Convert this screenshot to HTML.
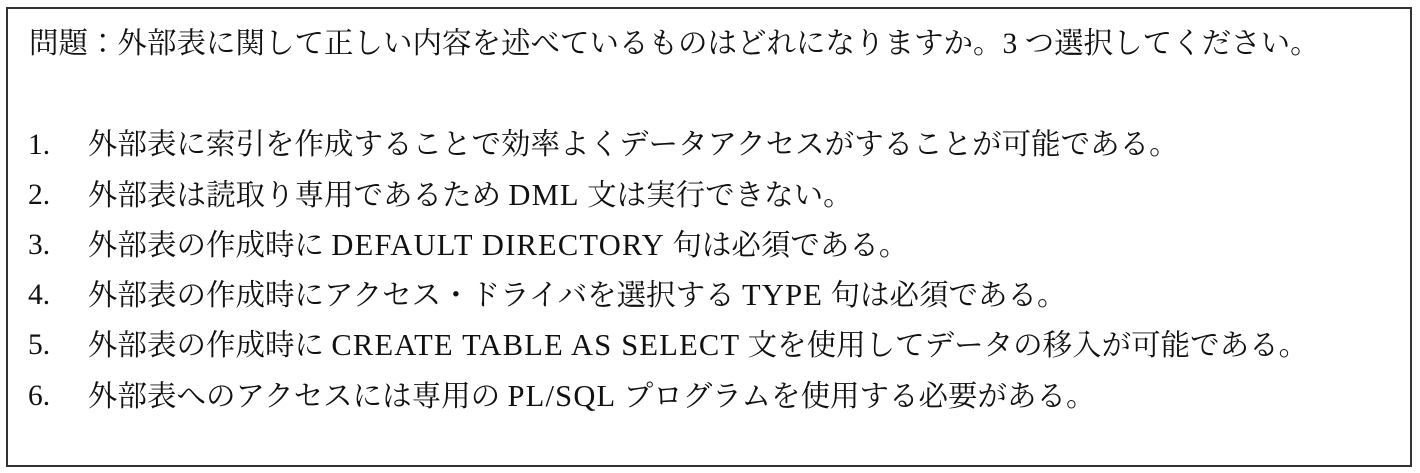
<!DOCTYPE html>
<html><head><meta charset="utf-8"><style>
html,body{margin:0;padding:0;background:#fff;width:1420px;height:473px;overflow:hidden}
.box{position:absolute;left:6px;top:7px;width:1402px;height:456px;border:2px solid #333;}
.l{position:absolute;white-space:nowrap;font-family:"Liberation Serif","Noto Serif CJK JP","Noto Serif CJK SC",serif;font-size:29.5px;line-height:30px;color:#111}
.n{left:28px}.t{left:88px}
.e{letter-spacing:1.2px;font-size:30.5px}
</style></head><body>
<div class="box"></div>
<div class="l" style="left:29px;top:29px">問題：外部表に関して正しい内容を述べているものはどれになりますか。3 つ選択してください。</div>
<div class="l n" style="top:130px">1.</div><div class="l t" style="top:130px">外部表に索引を作成することで効率よくデータアクセスがすることが可能である。</div>
<div class="l n" style="top:180px">2.</div><div class="l t" style="top:180px">外部表は読取り専用であるため <span class="e">DML</span> 文は実行できない。</div>
<div class="l n" style="top:230px">3.</div><div class="l t" style="top:230px">外部表の作成時に <span class="e">DEFAULT DIRECTORY</span> 句は必須である。</div>
<div class="l n" style="top:280px">4.</div><div class="l t" style="top:280px">外部表の作成時にアクセス・ドライバを選択する <span class="e">TYPE</span> 句は必須である。</div>
<div class="l n" style="top:330px">5.</div><div class="l t" style="top:330px">外部表の作成時に <span class="e">CREATE TABLE AS SELECT</span> 文を使用してデータの移入が可能である。</div>
<div class="l n" style="top:381px">6.</div><div class="l t" style="top:381px">外部表へのアクセスには専用の <span class="e">PL/SQL</span> プログラムを使用する必要がある。</div>
</body></html>
